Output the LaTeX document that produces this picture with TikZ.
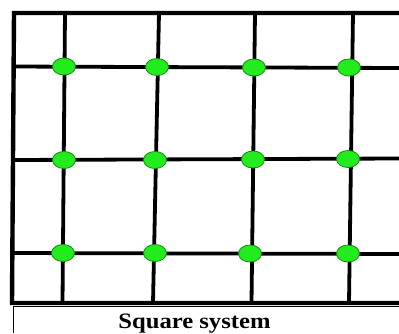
\documentclass[tikz,border=0pt]{standalone}
\usepackage{fontspec}
\usepackage{graphicx}
\setmainfont{Liberation Serif}
\definecolor{dotgreen}{RGB}{34,236,30}
\definecolor{dotedge}{RGB}{20,140,20}
\tikzset{
  gridline/.style={line width=3.8pt, black},
  frameline/.style={line width=4.4pt, black},
  thinline/.style={line width=1pt, black},
  site/.style={ellipse, draw=dotedge, line width=0.8pt, fill=dotgreen, minimum width=23pt, minimum height=17pt, inner sep=0pt},
}
\usetikzlibrary{shapes.geometric}
\begin{document}
\begin{tikzpicture}[x=1pt,y=-1pt]
\useasboundingbox (0,0) rectangle (399,333);
% frame corners
\coordinate (tl) at (14,13);
\coordinate (bl) at (12,303);
\coordinate (tr) at (399,13);
\coordinate (br) at (399,303);
% horizontal rows
\coordinate (h1l) at (12,66.5);  \coordinate (h1r) at (399,68);
\coordinate (h2l) at (12,160);   \coordinate (h2r) at (399,158.5);
\coordinate (h3l) at (12,253);   \coordinate (h3r) at (399,254);
% verticals
\coordinate (v1t) at (65,13);  \coordinate (v1b) at (62.5,303);
\coordinate (v2t) at (159,13); \coordinate (v2b) at (153,303);
\coordinate (v3t) at (255,13); \coordinate (v3b) at (251.5,303);
\coordinate (v4t) at (353,13); \coordinate (v4b) at (349,303);
% caption box
\coordinate (cl) at (13,306);
\coordinate (cr) at (399,306);
\coordinate (cb) at (13,333);
\draw[thinline] (cb) -- (cl) -- (cr);
\draw[gridline] (v1t) -- (v1b);
\draw[gridline] (v2t) -- (v2b);
\draw[gridline] (v3t) -- (v3b);
\draw[gridline] (v4t) -- (v4b);
\draw[gridline] (h1l) -- (h1r);
\draw[gridline] (h2l) -- (h2r);
\draw[gridline] (h3l) -- (h3r);
\draw[frameline] (tr) -- (tl) -- (bl) -- (br);
% sites
\node[site] (a1) at (64,66.5) {};
\node[site] (a2) at (157,67) {};
\node[site] (a3) at (254,67.5) {};
\node[site] (a4) at (349,67.5) {};
\node[site] (b1) at (64,160) {};
\node[site] (b2) at (155,160) {};
\node[site] (b3) at (253,159.5) {};
\node[site] (b4) at (348,159) {};
\node[site] (c1) at (63,253) {};
\node[site] (c2) at (155,253) {};
\node[site] (c3) at (250,253.5) {};
\node[site] (c4) at (348,253.5) {};
\node[inner sep=0pt, anchor=base] (cap) at (194.5,328) {\scalebox{1.12}[1]{\fontsize{22}{22}\selectfont\bfseries Square system}};
\end{tikzpicture}
\end{document}
